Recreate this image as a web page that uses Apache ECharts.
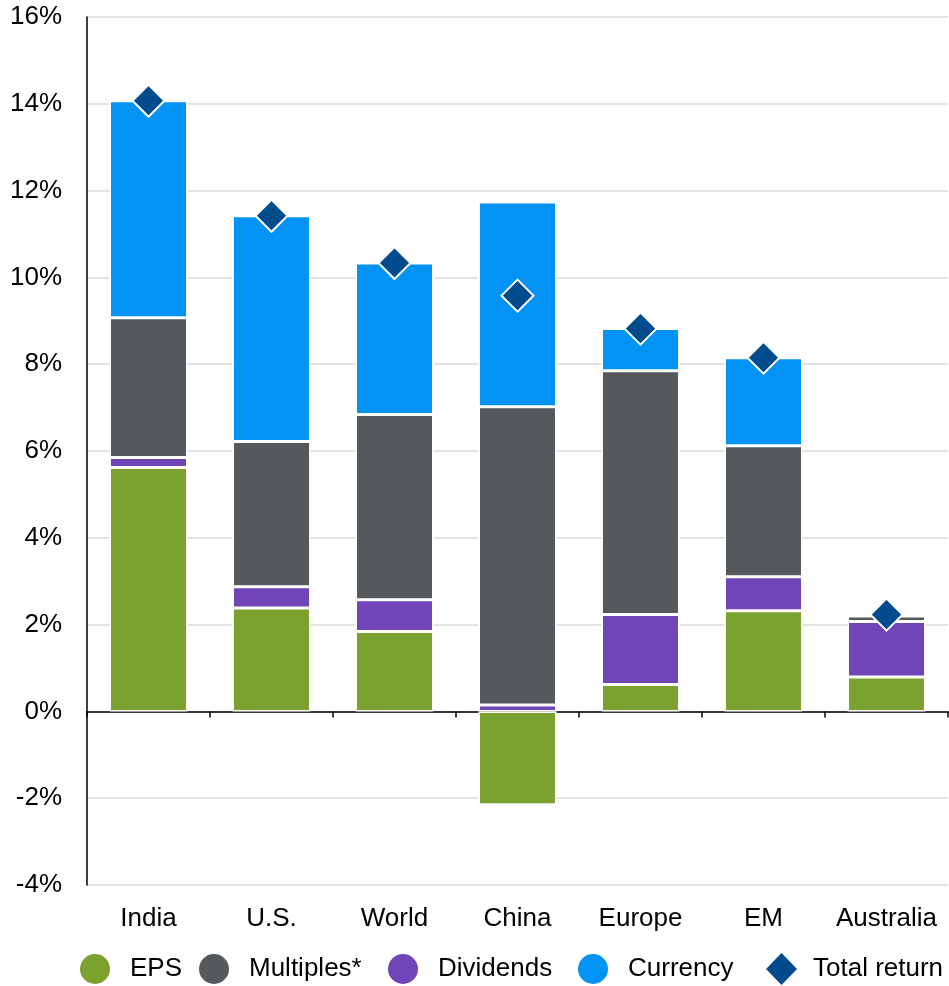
<!DOCTYPE html>
<html>
<head>
<meta charset="utf-8">
<script src="https://cdn.jsdelivr.net/npm/echarts@6/dist/echarts.min.js"></script>
<style>
  html, body { margin: 0; padding: 0; background: #fff; }
  #chart { width: 949px; height: 986px; }
</style>
</head>
<body>
<div id="chart"></div>
<script>
// Annualised return decomposition by market (%)
const categories = ['India', 'U.S.', 'World', 'China', 'Europe', 'EM', 'Australia'];
const eps        = [5.62, 2.38, 1.84, -2.15, 0.62, 2.32, 0.79];
const dividends  = [0.23, 0.49, 0.73, 0.15, 1.61, 0.78, 1.28];
const multiples  = [3.22, 3.35, 4.27, 6.87, 5.62, 3.02, 0.13];
const currency   = [5.00, 5.20, 3.49, 4.72, 0.97, 2.03, 0.00];
const totalReturn = [14.07, 11.42, 10.33, 9.58, 8.82, 8.15, 2.23];
const yTicks = [-4, -2, 0, 2, 4, 6, 8, 10, 12, 14, 16];

// Legend entries in display order, with their icon, icon size and x position
const legendItems = [
  { name: 'EPS', icon: 'circle', left: 80, w: 30, h: 30, gap: 15 },
  { name: 'Multiples*', icon: 'circle', left: 199, w: 30, h: 30, gap: 15 },
  { name: 'Dividends', icon: 'circle', left: 388, w: 30, h: 30, gap: 15 },
  { name: 'Currency', icon: 'circle', left: 578, w: 30, h: 30, gap: 15 },
  { name: 'Total return', icon: 'diamond', left: 766, w: 31, h: 32, gap: 11 }
];

const FONT = '"Liberation Sans", Arial, sans-serif';
const FONT_SIZE = 26;
const colors = {
  eps: '#7BA12F',
  multiples: '#55595C',
  dividends: '#6F45B8',
  currency: '#0393F5',
  total: '#004A8E'
};

function barSeries(name, data, color) {
  return {
    name: name,
    type: 'bar',
    stack: 'ret',
    data: data,
    barWidth: 78,
    itemStyle: { color: color, borderColor: '#ffffff', borderWidth: 1.5 },
    emphasis: { disabled: true }
  };
}

const legends = legendItems.map(function (it) {
  return {
    left: it.left,
    top: 969 - it.h / 2,
    padding: 0,
    itemWidth: it.w,
    itemHeight: it.h,
    itemStyle: { borderWidth: 0 },
    data: [{ name: it.name, icon: it.icon }],
    textStyle: { fontSize: FONT_SIZE, color: '#000', fontFamily: FONT, padding: [0, 0, 0, it.gap] }
  };
});

const chart = echarts.init(document.getElementById('chart'), null, { renderer: 'canvas' });
chart.setOption({
  animation: false,
  textStyle: { fontFamily: FONT },
  grid: { left: 87, right: 1, top: 17, bottom: 101, containLabel: false },
  legend: legends,
  xAxis: {
    type: 'category',
    data: categories,
    axisLine: { onZero: true, lineStyle: { color: '#000', width: 1.5 } },
    axisTick: { show: true, length: 6, lineStyle: { color: '#000', width: 1.5 } },
    axisLabel: {
      interval: 0,
      margin: 21,
      fontSize: FONT_SIZE,
      color: '#000',
      fontFamily: FONT
    }
  },
  yAxis: {
    type: 'value',
    min: yTicks[0],
    max: yTicks[yTicks.length - 1],
    interval: 2,
    axisLine: { show: true, lineStyle: { color: '#000', width: 1.5 } },
    axisTick: { show: false },
    splitLine: { lineStyle: { color: '#D9D9D9', width: 1.5 } },
    axisLabel: {
      formatter: '{value}%',
      margin: 25,
      fontSize: FONT_SIZE,
      color: '#000',
      fontFamily: FONT
    }
  },
  series: [
    barSeries('EPS', eps, colors.eps),
    barSeries('Dividends', dividends, colors.dividends),
    barSeries('Multiples*', multiples, colors.multiples),
    barSeries('Currency', currency, colors.currency),
    {
      name: 'Total return',
      type: 'scatter',
      data: totalReturn,
      symbol: 'diamond',
      symbolSize: 32,
      z: 5,
      itemStyle: { color: colors.total, opacity: 1, borderColor: '#ffffff', borderWidth: 2 },
      emphasis: { disabled: true }
    }
  ]
});
</script>
</body>
</html>
